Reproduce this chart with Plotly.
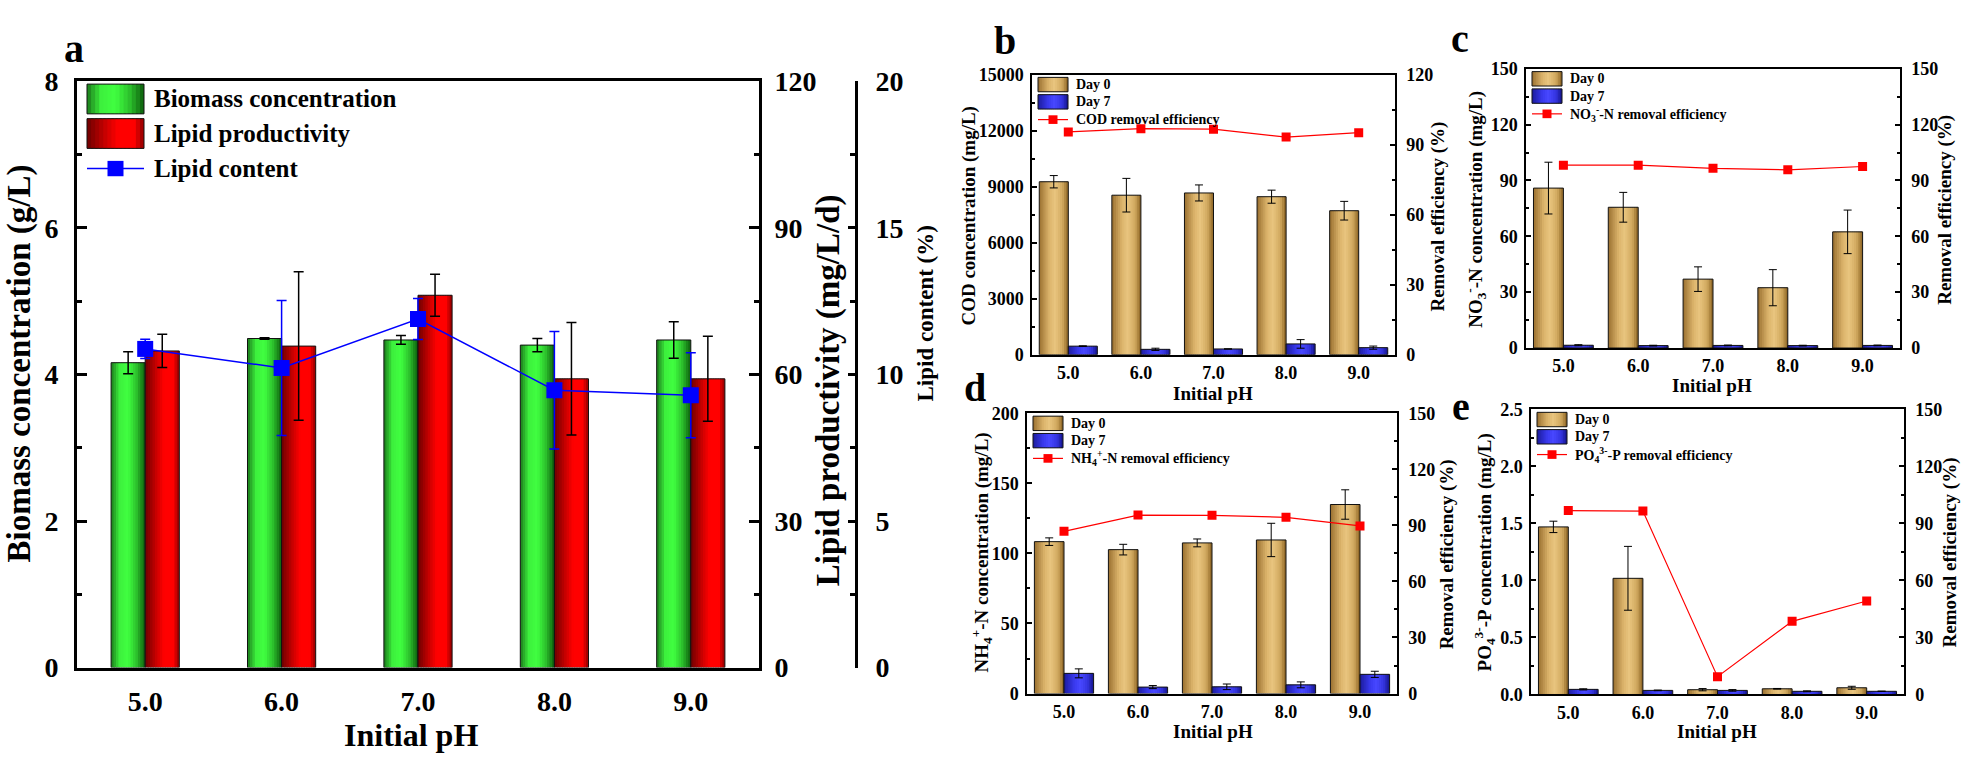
import plotly.graph_objects as go

W, H = 1961, 770
FONT = 'Liberation Serif'

ph = ['5.0', '6.0', '7.0', '8.0', '9.0']

# a: growth and lipid
biomass = [4.16, 4.49, 4.47, 4.40, 4.47]
biomass_err = [0.15, 0.01, 0.06, 0.09, 0.25]
lipid_prod = [64.8, 65.8, 76.2, 59.1, 59.1]
lipid_prod_err = [3.4, 15.2, 4.3, 11.5, 8.7]
lipid_content = [10.87, 10.22, 11.89, 9.46, 9.29]
lipid_content_err = [0.33, 2.3, 0.7, 2.0, 1.45]

# b: COD
cod_day0 = [9260, 8540, 8660, 8460, 7710]
cod_day0_err = [330, 900, 430, 350, 500]
cod_day7 = [460, 290, 310, 580, 380]
cod_day7_err = [20, 60, 0, 230, 85]
cod_removal = [95.4, 96.8, 96.6, 93.2, 95.1]

# c: NO3-N
no3_day0 = [85.9, 75.6, 37.0, 32.4, 62.4]
no3_day0_err = [13.9, 8.0, 6.6, 9.7, 11.7]
no3_day7 = [1.5, 1.3, 1.4, 1.3, 1.4]
no3_day7_err = [0.3, 0.2, 0.2, 0.2, 0.2]
no3_removal = [98.2, 98.2, 96.5, 95.7, 97.5]

# d: NH4-N
nh4_day0 = [108.4, 102.7, 107.5, 109.6, 134.9]
nh4_day0_err = [2.7, 3.8, 2.8, 11.9, 10.5]
nh4_day7 = [14.4, 4.6, 4.8, 6.2, 13.7]
nh4_day7_err = [3.2, 1.1, 2.0, 2.1, 2.2]
nh4_removal = [86.8, 95.5, 95.4, 94.3, 89.7]

# e: PO4-P
po4_day0 = [1.470, 1.019, 0.042, 0.050, 0.059]
po4_day0_err = [0.05, 0.28, 0.01, 0.003, 0.013]
po4_day7 = [0.045, 0.036, 0.036, 0.028, 0.028]
po4_day7_err = [0.005, 0.003, 0.007, 0.004, 0.002]
po4_removal = [96.8, 96.5, 9.4, 38.5, 49.2]

# cylinder-like shading, left -> right
GREEN = [(0, '#1b7a1b'), (0.25, '#3df03d'), (0.5, '#40ff40'), (0.75, '#2cc02c'), (1, '#0d5e0d')]
RED = [(0, '#6e0000'), (0.35, '#d00000'), (0.55, '#ff0000'), (0.82, '#ff0000'), (1, '#900000')]
TAN = [(0, '#9a7030'), (0.35, '#dcb56c'), (0.55, '#e9c57f'), (0.8, '#d0a85e'), (1, '#8a6222')]
BLUE = [(0, '#1c1c9c'), (0.35, '#3a3af0'), (0.55, '#4848ff'), (0.8, '#3434e0'), (1, '#141488')]


def grad_color(stops, t):
    for (t0, c0), (t1, c1) in zip(stops, stops[1:]):
        if t <= t1:
            f = (t - t0) / (t1 - t0)
            a = [int(c0[i:i + 2], 16) for i in (1, 3, 5)]
            b = [int(c1[i:i + 2], 16) for i in (1, 3, 5)]
            return 'rgb(%d,%d,%d)' % tuple(round(a[k] + (b[k] - a[k]) * f) for k in range(3))
    return stops[-1][1]


def px_x(p):
    return p / W


def px_y(p):
    return 1 - p / H


fig = go.Figure()


def add_bars(y, err, offset, width, stops, xa, ya, n=14, err_w=5, err_t=1.5):
    step = width / n
    for i in range(n):
        w = min(step * 1.6, width - i * step)
        fig.add_trace(go.Bar(x=ph, y=y, offset=offset + i * step, width=w,
                             marker=dict(color=grad_color(stops, (i + 0.5) / n), line=dict(width=0)),
                             xaxis=xa, yaxis=ya, showlegend=False, hoverinfo='skip'))
    fig.add_trace(go.Bar(x=ph, y=y, offset=offset, width=width,
                         marker=dict(color='rgba(0,0,0,0)', line=dict(color='#111111', width=1)),
                         error_y=dict(type='data', array=err, color='black', thickness=err_t, width=err_w),
                         xaxis=xa, yaxis=ya, showlegend=False))


def add_line(y, color, size, xa, ya, err=None, lw=1.2):
    fig.add_trace(go.Scatter(x=ph, y=y, mode='lines+markers',
                             marker=dict(symbol='square', size=size, color=color),
                             line=dict(color=color, width=lw),
                             error_y=None if err is None else dict(type='data', array=err, color=color,
                                                                   thickness=1.5, width=5),
                             xaxis=xa, yaxis=ya, showlegend=False))


# panel a
add_bars(biomass, biomass_err, -0.25, 0.25, GREEN, 'x', 'y', err_w=5)
add_bars(lipid_prod, lipid_prod_err, 0, 0.25, RED, 'x', 'y2', err_w=5)
add_line(lipid_content, '#0000ff', 16, 'x', 'y3', err=lipid_content_err, lw=1.5)

# panels b-e
panels = [
    ('x2', 'y4', 'y5', cod_day0, cod_day0_err, cod_day7, cod_day7_err, cod_removal),
    ('x3', 'y6', 'y7', no3_day0, no3_day0_err, no3_day7, no3_day7_err, no3_removal),
    ('x4', 'y8', 'y9', nh4_day0, nh4_day0_err, nh4_day7, nh4_day7_err, nh4_removal),
    ('x5', 'y10', 'y11', po4_day0, po4_day0_err, po4_day7, po4_day7_err, po4_removal),
]
for xa, ya, yb, d0, d0e, d7, d7e, rem in panels:
    add_bars(d0, d0e, -0.4, 0.4, TAN, xa, ya, err_w=4, err_t=1)
    add_bars(d7, d7e, 0, 0.4, BLUE, xa, ya, err_w=4, err_t=1)
    add_line(rem, '#ff0000', 9, xa, yb)


def tfont(size):
    return dict(family=FONT, size=size, color='black', weight='bold')


def x_axis(left, right, anchor, lw, size, standoff):
    return dict(domain=[px_x(left), px_x(right)], anchor=anchor, type='category', range=[-0.5, 4.5],
                showline=True, linewidth=lw, linecolor='black', mirror=True, ticks='',
                tickfont=tfont(size), ticklabelstandoff=standoff, showgrid=False, zeroline=False)


def y_axis(top, bottom, anchor, rng, dtick, mdtick, side, lw, tl, mtl, size, standoff,
           overlaying=None, fmt='d', position=None):
    d = dict(domain=[px_y(bottom), px_y(top)], anchor=anchor, side=side, range=rng,
             tick0=0, dtick=dtick, tickformat=fmt, showline=True, linewidth=lw, linecolor='black',
             ticks='inside', ticklen=tl, tickwidth=lw, tickcolor='black',
             minor=dict(ticks='inside', tick0=0, dtick=mdtick, ticklen=mtl, tickwidth=lw, tickcolor='black'),
             tickfont=tfont(size), ticklabelstandoff=standoff, showgrid=False, zeroline=False)
    if overlaying:
        d['overlaying'] = overlaying
    if position is not None:
        d['position'] = position
    return d


layout = dict(
    width=W, height=H, margin=dict(l=0, r=0, t=0, b=0),
    paper_bgcolor='white', plot_bgcolor='white', barmode='overlay', showlegend=False,
    font=dict(family=FONT, color='black', weight='bold'),
)

# panel a axes
layout['xaxis'] = x_axis(77, 759, 'y', 3, 28, 7)
layout['yaxis'] = y_axis(69, 680, 'x', [0, 8], 2, 1, 'left', 3, 10, 5, 28, 10)
layout['yaxis2'] = y_axis(69, 680, 'x', [0, 120], 30, 15, 'right', 3, 10, 5, 28, 7, overlaying='y')
layout['yaxis3'] = y_axis(69, 680, 'free', [0, 20], 5, 2.5, 'right', 3, 7, 5, 28, 12,
                          overlaying='y', position=px_x(856))

# panels b-e geometry: (left, right, top, bottom, left range, dtick, minor, fmt)
geo = [
    (1032, 1395, 62, 354, [0, 15000], 3000, 1500, 'd'),
    (1526, 1900, 56, 347, [0, 150], 30, 15, 'd'),
    (1027, 1397, 415, 707, [0, 200], 50, 25, 'd'),
    (1531, 1904, 411, 708, [0, 2.5], 0.5, 0.25, '.1f'),
]
for k, (l, r, t, b, rng, dt, mdt, fmt) in enumerate(geo):
    xi = k + 2
    ya = 2 * k + 4
    yb = ya + 1
    layout['xaxis%d' % xi] = x_axis(l, r, 'y%d' % ya, 1.5, 18, 1)
    layout['yaxis%d' % ya] = y_axis(t, b, 'x%d' % xi, rng, dt, mdt, 'left', 1.5, 5, 3, 18, 3, fmt=fmt)
    layout['yaxis%d' % yb] = y_axis(t, b, 'x%d' % xi, [0, 150] if k else [0, 120], 30, 15, 'right',
                                    1.5, 5, 3, 18, 6, overlaying='y%d' % ya)

fig.update_layout(**layout)

annotations = []
shapes = []


def text(x, y, s, size, angle=0, xanchor='center'):
    annotations.append(dict(x=px_x(x), y=px_y(y), xref='paper', yref='paper', text=s, showarrow=False,
                            textangle=angle, xanchor=xanchor, yanchor='middle',
                            font=dict(family=FONT, size=size, color='black', weight='bold')))


def swatch(x0, x1, y0, y1, stops, n=14):
    step = (x1 - x0) / n
    for i in range(n):
        shapes.append(dict(type='rect', xref='paper', yref='paper',
                           x0=px_x(x0 + i * step), x1=px_x(min(x1, x0 + (i + 1.6) * step)),
                           y0=px_y(y1), y1=px_y(y0), line=dict(width=0),
                           fillcolor=grad_color(stops, (i + 0.5) / n)))
    shapes.append(dict(type='rect', xref='paper', yref='paper', x0=px_x(x0), x1=px_x(x1),
                       y0=px_y(y1), y1=px_y(y0), line=dict(color='#111111', width=1)))


def legend(left, top, labels, stops, color, size, sx, r1, r2, ly, tx, msize, lw):
    swatch(left + sx[0], left + sx[1], top + r1[0], top + r1[1], stops[0])
    swatch(left + sx[0], left + sx[1], top + r2[0], top + r2[1], stops[1])
    shapes.append(dict(type='line', xref='paper', yref='paper', x0=px_x(left + sx[0]), x1=px_x(left + sx[1]),
                       y0=px_y(top + ly), y1=px_y(top + ly), line=dict(color=color, width=lw)))
    cx = left + (sx[0] + sx[1]) / 2
    shapes.append(dict(type='rect', xref='paper', yref='paper', x0=px_x(cx - msize / 2), x1=px_x(cx + msize / 2),
                       y0=px_y(top + ly + msize / 2), y1=px_y(top + ly - msize / 2),
                       fillcolor=color, line=dict(width=0)))
    for lab, yy in zip(labels, [(r1[0] + r1[1]) / 2, (r2[0] + r2[1]) / 2, ly]):
        text(left + tx, top + yy, lab, size, xanchor='left')


# panel a
legend(77, 69, ['Biomass concentration', 'Lipid productivity', 'Lipid content'], [GREEN, RED],
       '#0000ff', 25, (10, 67), (3, 34), (39, 70), 91, 75, 16, 1.5)
text(74, 35, 'a', 40)
text(19, 363, 'Biomass concentration (g/L)', 33, -90)
text(828, 391, 'Lipid productivity (mg/L/d)', 33, -90)
text(925, 311, 'Lipid content (%)', 23, -90)
text(411, 750, 'Initial pH', 32)

legend_labels = [
    'COD removal efficiency',
    'NO<sub>3</sub><sup>-</sup>-N removal efficiency',
    'NH<sub>4</sub><sup>+</sup>-N removal efficiency',
    'PO<sub>4</sub><sup>3-</sup>-P removal efficiency',
]
left_titles = [
    'COD concentration (mg/L)',
    'NO<sub>3</sub><sup>-</sup>-N concentration (mg/L)',
    'NH<sub>4</sub><sup>+</sup>-N concentration (mg/L)',
    'PO<sub>4</sub><sup>3-</sup>-P concentration (mg/L)',
]
letters = [('b', 1005, 27), ('c', 1460, 24), ('d', 975, 388), ('e', 1461, 408)]
ltitle_pos = [(969, 209), (1476, 203), (981, 560), (1484, 560)]
rtitle_pos = [(1438, 210), (1945, 203), (1447, 562), (1950, 560)]
xtitle_pos = [(1213, 394), (1712, 386), (1213, 747), (1717, 747)]

for k, (l, r, t, b, rng, dt, mdt, fmt) in enumerate(geo):
    legend(l, t, ['Day 0', 'Day 7', legend_labels[k]], [TAN, BLUE], '#ff0000', 14,
           (6, 36), (3, 18), (21, 36), 47, 42, 9, 1.2)
    s, x, y = letters[k]
    text(x, y, s, 40)
    text(*ltitle_pos[k], left_titles[k], 19, -90)
    text(*rtitle_pos[k], 'Removal efficiency (%)', 19, -90)
    text(*xtitle_pos[k], 'Initial pH', 19)

fig.update_layout(annotations=annotations, shapes=shapes)

fig.write_html("out.html", config={'displayModeBar': False},
               post_script="document.body.style.margin='0';document.body.style.overflow='hidden';")
